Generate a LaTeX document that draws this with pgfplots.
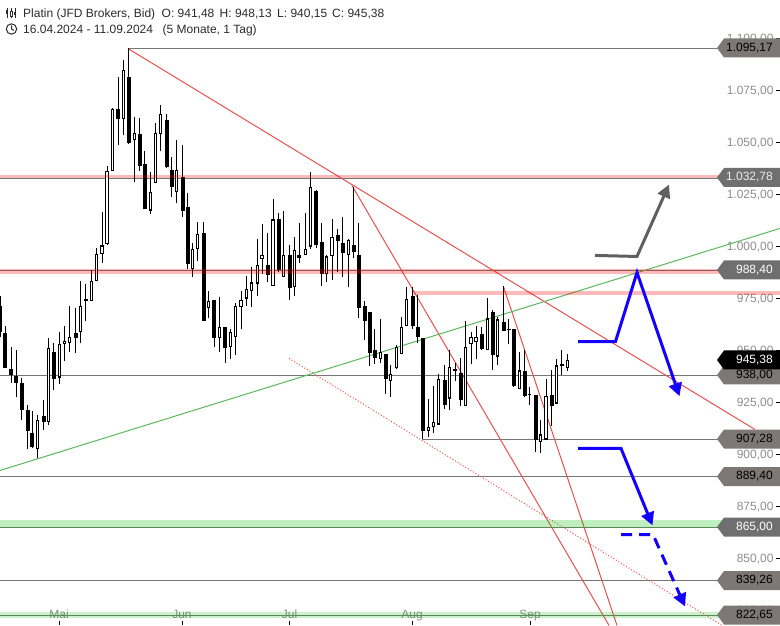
\documentclass[border=0pt]{standalone}
\usepackage{fontspec}
\setmainfont{Liberation Sans}
\usepackage{pgfplots}
\usepackage{pgfplotstable}
\pgfplotsset{compat=1.18}
\usetikzlibrary{arrows.meta}
\pgfplotstableread{
x o h l c
0 971.6 976.0 956.7 958.7
5 958.2 962.0 941.4 941.8
11 940.9 951.5 934.6 938.0
16 937.5 950.0 927.4 934.6
21.5 934.6 937.0 916.8 921.6
27.5 921.2 923.6 902.4 911.5
32 910.5 920.7 902.9 903.4
43.5 918.3 926.4 912.0 915.4
53.5 949.5 953.4 931.2 936.1
75.5 958.2 970.2 948.6 956.2
85.5 974.6 982.2 964.0 974.2
118 1065.9 1081.7 1049.0 1061.5
128.5 1081.7 1095.2 1049.5 1050.0
139.5 1054.3 1062.0 1036.5 1038.9
144.5 1039.9 1045.7 1017.8 1017.8
166.5 1061.0 1063.5 1037.5 1038.0
171.5 1037.0 1042.8 1023.6 1028.8
182.5 1033.2 1048.6 1014.4 1017.3
187.5 1018.8 1025.5 989.4 991.8
203.5 1006.7 1012.0 964.4 964.4
214 974.5 974.5 951.5 955.8
225 961.1 961.1 944.2 951.0
267.5 991.3 1006.7 982.7 986.5
278.5 1013.0 1015.9 987.5 988.9
289.5 996.1 1000.5 974.5 979.8
299 996.1 1011.5 992.3 994.7
316 1026.9 1027.4 999.5 1000.5
321.5 1002.4 1011.5 980.8 987.0
337.5 1005.3 1008.2 987.5 1002.4
342.5 1001.9 1014.4 985.1 997.1
353.5 1000.5 1028.8 994.7 997.6
358.5 995.7 1011.5 965.4 970.2
364.5 971.2 974.0 954.8 964.4
369.5 968.3 968.3 942.3 949.0
374.5 950.0 960.1 943.3 946.2
385.5 948.1 948.1 929.3 936.1
412.5 976.0 980.3 960.1 962.0
417.5 961.5 976.9 953.4 956.7
422.5 956.2 956.2 907.2 911.5
444.5 935.6 942.8 922.1 924.0
455 940.9 944.2 935.1 940.4
460.5 939.4 946.2 923.1 926.4
481.5 957.7 961.5 950.0 950.5
492.5 968.3 969.7 940.4 947.6
503.5 963.5 981.2 959.6 959.6
508.5 960.3 964.9 952.9 959.9
513.5 960.1 960.1 932.2 932.7
524.5 939.9 950.0 927.4 927.9
535.5 928.4 928.4 901.4 907.2
551.5 928.8 940.4 913.9 923.1
561.5 943.3 950.0 938.0 942.3
}\downcandles
\pgfplotstableread{
x o h l c
37.5 902.4 919.2 898.1 916.8
48.5 915.4 956.2 914.4 951.0
59.5 937.0 958.7 934.1 952.9
64.5 952.9 962.0 944.7 954.8
69.5 953.8 971.6 949.5 956.7
80.5 958.7 983.6 953.4 971.2
91.5 974.0 988.9 974.0 983.6
96.5 983.2 999.5 983.2 996.6
102 996.6 1016.8 992.3 1000.5
107 1001.0 1038.5 1000.5 1036.1
112.5 1036.5 1066.8 1036.5 1065.9
123.5 1061.5 1089.9 1053.4 1085.1
134.5 1051.4 1062.5 1030.8 1054.8
150.5 1017.3 1035.6 1015.4 1026.0
155.5 1030.3 1059.6 1030.3 1054.8
160.5 1054.3 1067.8 1045.7 1063.5
176.5 1026.4 1051.4 1020.7 1037.0
192.5 989.4 1001.9 985.1 999.0
197.5 998.6 1012.0 992.8 1006.2
208.5 970.2 978.4 965.4 973.6
219.5 956.2 975.5 949.5 961.1
230.5 951.5 960.1 945.7 959.1
235.5 956.7 972.6 947.6 971.6
241 970.7 978.8 960.1 974.5
246.5 975.0 985.6 971.6 979.8
251.5 978.8 989.9 970.7 982.7
257.5 982.2 1003.4 976.4 990.9
262 993.8 1010.6 987.0 996.1
273 981.2 1022.6 981.2 1013.0
283.5 985.1 1017.3 985.1 995.7
294.5 980.3 1004.8 976.0 998.1
305.5 995.7 1015.9 995.7 999.0
310.5 1000.0 1035.6 999.0 1028.4
326.5 987.0 996.1 982.7 995.2
332 995.2 1013.0 984.1 1004.8
348.5 996.1 1003.8 980.3 1002.9
380.5 945.7 964.9 944.2 949.5
390.5 935.1 942.8 927.4 938.5
396.5 941.8 952.4 940.9 951.5
401.5 948.1 965.9 948.1 961.1
406.5 962.0 980.3 962.0 975.0
428.5 911.5 926.9 908.6 913.4
433.5 913.4 932.7 910.1 915.4
438.5 914.4 938.5 914.4 936.1
449.5 926.9 950.0 921.2 942.3
465.5 923.1 964.0 923.1 951.9
471 952.9 959.1 943.3 956.7
476 954.3 962.0 945.7 956.7
487.5 950.0 975.0 950.0 965.4
497.5 947.1 965.9 942.8 964.9
519.5 931.7 949.5 931.7 940.4
529.5 928.4 932.2 923.6 929.3
540.5 905.8 916.8 900.9 909.6
546 907.2 936.5 907.2 927.9
556.5 924.5 945.7 924.5 942.8
567.5 941.48 948.13 940.15 945.38
}\upcandles
\definecolor{lvl}{HTML}{777777}
\definecolor{tagA}{HTML}{7D7875}
\definecolor{tagB}{HTML}{6F6F6F}
\definecolor{rline}{HTML}{E85050}
\definecolor{gline}{HTML}{5CB85C}
\definecolor{arrblue}{HTML}{1400FF}
\definecolor{arrgray}{HTML}{606060}
\definecolor{ticktxt}{HTML}{8C8C8C}
\definecolor{head}{HTML}{2A2A2A}
\newcommand{\tg}[4]{%
  \fill[#3] (780pt,{625pt-(#1pt)+9.5pt}) -- (724pt,{625pt-(#1pt)+9.5pt}) -- (717pt,{625pt-(#1pt)}) -- (724pt,{625pt-(#1pt)-9.5pt}) -- (780pt,{625pt-(#1pt)-9.5pt}) -- cycle;
  \node[anchor=east,inner sep=0pt,text=#4,font=\fontsize{12}{14}\selectfont] at (773pt,{625pt-(#1pt)}) {#2};}
\newcommand{\txt}[3]{\node[anchor=base west,inner sep=0pt,text=head,font=\fontsize{12}{14}\selectfont] at (#1pt,#2pt) {#3};}
\begin{document}
\begin{tikzpicture}[x=1pt,y=1pt]
\path[use as bounding box] (0,0) rectangle (780pt,625pt);
\begin{axis}[
  at={(0,0)},anchor=south west,
  scale only axis,width=780pt,height=625pt,
  xmin=0,xmax=780,ymin=818.0,ymax=1118.52,
  axis line style={draw=none},
  tick align=inside,major tick length=4pt,
  tick style={black,line width=0.8pt},
  xtick pos=bottom,ytick pos=right,
  xtick={59,182,289.5,412,530},
  xticklabels={Mai,Jun,Jul,Aug,Sep},
  ytick={825,850,875,900,925,950,975,1000,1025,1050,1075,1100},
  yticklabel pos=right,
  scaled y ticks=false,
  /pgf/number format/assume math mode=true,
  /pgf/number format/.cd,fixed,fixed zerofill,precision=2,1000 sep={.},dec sep={,},
  /pgfplots/.cd,
  tick label style={text=ticktxt,font=\fontsize{12}{14}\selectfont},
  x tick label style={anchor=base,yshift=6.5pt},
  y tick label style={anchor=east,xshift=-3pt,yshift=-0.6pt},
]
% gray level lines
\addplot[lvl,line width=1pt] coordinates {(128,1095.17)(720,1095.17)};
\addplot[lvl,line width=1pt] coordinates {(0,1032.78)(720,1032.78)};
\addplot[lvl,line width=1pt] coordinates {(0,988.40)(720,988.40)};
\addplot[lvl,line width=1pt] coordinates {(0,938.00)(720,938.00)};
\addplot[lvl,line width=1pt] coordinates {(422,907.28)(720,907.28)};
\addplot[lvl,line width=1pt] coordinates {(0,889.40)(720,889.40)};
\addplot[lvl,line width=1pt] coordinates {(0,865.00)(720,865.00)};
\addplot[lvl,line width=1pt] coordinates {(0,839.26)(720,839.26)};
\addplot[lvl,line width=1pt] coordinates {(0,822.65)(720,822.65)};
% trend lines
\addplot[rline,line width=1pt] coordinates {(128,1095.17)(755,912.0)};
\addplot[rline,line width=1pt] coordinates {(352,1029.3)(609,817.8)};
\addplot[rline,line width=1pt] coordinates {(503.3,980.9)(617,817.8)};
\addplot[rline,line width=1pt,dotted] coordinates {(289,946.2)(722,817.8)};
\addplot[gline,line width=1pt] coordinates {(0,892.3)(780,1008.7)};
% candles: wicks
\addplot[draw=none,no markers,error bars/.cd,y dir=plus,y explicit,error mark=none,error bar style={draw=black,line width=.9pt}]
  table[x=x,y=l,y error expr={\thisrow{h}-\thisrow{l}}] {\downcandles};
\addplot[draw=none,no markers,error bars/.cd,y dir=plus,y explicit,error mark=none,error bar style={draw=black,line width=.9pt}]
  table[x=x,y=l,y error expr={\thisrow{h}-\thisrow{l}}] {\upcandles};
% candles: bodies
\addplot[draw=none,no markers,error bars/.cd,y dir=both,y explicit,error mark=none,error bar style={draw=black,line width=4pt}]
  table[x=x,y expr={(\thisrow{o}+\thisrow{c})/2},y error expr={abs(\thisrow{o}-\thisrow{c})/2}] {\downcandles};
\addplot[draw=none,no markers,error bars/.cd,y dir=both,y explicit,error mark=none,error bar style={draw=black,line width=3.6pt}]
  table[x=x,y expr={(\thisrow{o}+\thisrow{c})/2},y error expr={abs(\thisrow{o}-\thisrow{c})/2}] {\upcandles};
\addplot[draw=none,no markers,error bars/.cd,y dir=both,y explicit,error mark=none,error bar style={draw=white,line width=1.6pt}]
  table[x=x,y expr={(\thisrow{o}+\thisrow{c})/2},y error expr={max(abs(\thisrow{o}-\thisrow{c})/2-0.5,0)}] {\upcandles};
% zones
\addplot[red,opacity=.27,line width=3.5pt] coordinates {(0,1033.7)(724,1033.7)};
\addplot[red,opacity=.27,line width=5pt] coordinates {(0,988.2)(724,988.2)};
\addplot[red,opacity=.27,line width=4.5pt] coordinates {(413,977.7)(780,977.7)};
\addplot[green!75!black,opacity=.25,line width=8pt] coordinates {(0,866.8)(724,866.8)};
\addplot[green!75!black,opacity=.2,line width=6pt] coordinates {(0,822.65)(724,822.65)};
% scenario arrows
\addplot[arrgray,line width=3pt,-{Triangle[length=13pt,width=13pt]}] coordinates {(595,995.7)(637,995.2)(669,1029.8)};
\addplot[arrblue,line width=3pt,-{Triangle[length=13pt,width=13pt]}] coordinates {(578,954.3)(615.5,954.3)(637,987.5)(679.5,928.0)};
\addplot[arrblue,line width=3pt,-{Triangle[length=13pt,width=13pt]}] coordinates {(578,902.9)(621,902.9)(652.5,865.9)};
\addplot[arrblue,line width=3pt,dash pattern=on 11pt off 7pt,-{Triangle[length=13pt,width=13pt]}] coordinates {(621,861.5)(653,861.5)(685,826.9)};
\end{axis}
% price tags
\tg{48}{1.095,17}{tagA}{black}
\tg{177.5}{1.032,78}{tagB}{white!92!black}
\tg{270}{988,40}{tagB}{white}
\tg{375}{938,00}{tagA}{black}
\tg{360}{945,38}{black}{white}
\tg{439}{907,28}{tagA}{black}
\tg{476.5}{889,40}{tagA}{black}
\tg{527}{865,00}{tagB}{white}
\tg{580.5}{839,26}{tagA}{black}
\tg{615}{822,65}{tagA}{black}
% header
\txt{23}{607.5}{Platin (JFD Brokers, Bid)}
\txt{161.5}{607.5}{O: 941,48}
\txt{219.5}{607.5}{H: 948,13}
\txt{277}{607.5}{L: 940,15}
\txt{332}{607.5}{C: 945,38}
\txt{23}{591.5}{16.04.2024 - 11.09.2024}
\txt{162.5}{591.5}{(5 Monate, 1 Tag)}
% icons
\draw[head,line width=1pt] (11.5,596) circle (5.2);
\draw[head,line width=1pt] (11.5,599.5) -- (11.5,596) -- (14,594.5);
\draw[head,line width=.7pt] (7,607) -- (7,617) (11,607) -- (11,617) (15,607) -- (15,617);
\fill[head] (6,611) rectangle (8,615);
\draw[head,fill=white,line width=.6pt] (10,609) rectangle (12,614);
\fill[head] (14,610) rectangle (16,613);
\end{tikzpicture}
\end{document}
